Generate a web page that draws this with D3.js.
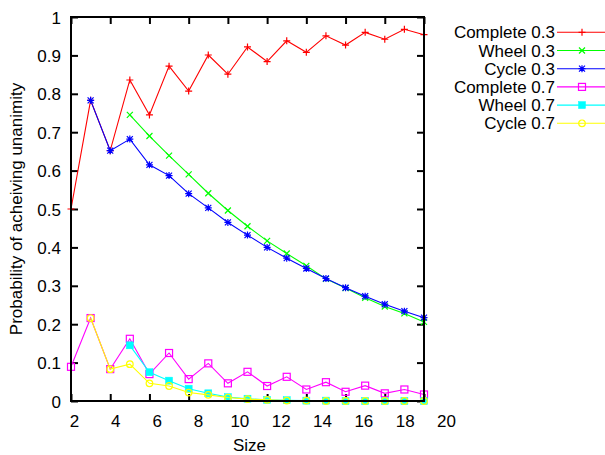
<!DOCTYPE html>
<html>
<head>
<meta charset="utf-8">
<script src="https://cdn.jsdelivr.net/npm/d3@7"></script>
<style>
  html, body { margin: 0; padding: 0; background: #fff; }
  svg { display: block; }
  text { font-family: "Liberation Sans", Arial, sans-serif; }
</style>
</head>
<body>
<svg id="chart" width="605" height="455"></svg>
<script>
// ---- data ----
const sizes = [2,3,4,5,6,7,8,9,10,11,12,13,14,15,16,17,18,19,20];
const complete03 = [0.500,0.783,0.652,0.836,0.745,0.872,0.807,0.901,0.851,0.922,0.884,0.938,0.908,0.951,0.927,0.960,0.942,0.968,0.954];
const wheel03    = [null,null,null,0.745,0.690,0.639,0.590,0.541,0.496,0.455,0.417,0.384,0.352,0.318,0.294,0.269,0.246,0.228,0.206];
const cycle03    = [null,0.783,0.652,0.682,0.615,0.587,0.540,0.503,0.465,0.432,0.400,0.372,0.345,0.319,0.295,0.273,0.252,0.234,0.217];
const complete07 = [0.089,0.216,0.083,0.162,0.070,0.125,0.057,0.098,0.046,0.076,0.039,0.063,0.030,0.049,0.024,0.040,0.020,0.030,0.017];
const wheel07    = [null,null,null,0.145,0.075,0.053,0.032,0.020,0.010,0.006,0.003,0.002,0.001,0.001,0.000,0.000,0.000,0.000,0.000];
const cycle07    = [null,0.216,0.083,0.096,0.046,0.039,0.022,0.016,0.009,0.005,0.003,0.001,0.001,0.000,0.000,0.000,0.000,0.000,0.000];

const seriesNames = ["Complete 0.3","Wheel 0.3","Cycle 0.3","Complete 0.7","Wheel 0.7","Cycle 0.7"];
const seriesValues = [complete03, wheel03, cycle03, complete07, wheel07, cycle07];
const seriesColors = ["#ff0000","#00ff00","#0000ff","#ff00ff","#00ffff","#ffff00"];
const seriesMarkers = ["plus","cross","star","openSquare","filledSquare","openCircle"];

const xTicks = [2,4,6,8,10,12,14,16,18,20];
const yTicks = [0,0.1,0.2,0.3,0.4,0.5,0.6,0.7,0.8,0.9,1];
const yTickLabels = ["0","0.1","0.2","0.3","0.4","0.5","0.6","0.7","0.8","0.9","1"];
const xTitle = "Size";
const yTitle = "Probability of acheiving unanimity";

// ---- layout ----
const L = 71, R = 424, T = 17, B = 401;
const FONT = 17;
const svg = d3.select("#chart");
svg.append("rect").attr("width",605).attr("height",455).attr("fill","#fff");

const x = d3.scaleLinear().domain([2,20]).range([L,R]);
const xLab = d3.scaleLinear().domain([2,20]).range([74,446]);
const y = d3.scaleLinear().domain([0,1]).range([B,T]);

function styleTicks(g){
  g.select(".domain").remove();
  g.selectAll(".tick line").attr("stroke","#000").attr("stroke-width",2);
}
// inward ticks on all four sides
svg.append("g").attr("transform",`translate(0,${B})`)
  .call(d3.axisTop(x).tickValues(xTicks).tickSize(7).tickFormat(""))
  .call(styleTicks);
svg.append("g").attr("transform",`translate(0,${T})`)
  .call(d3.axisBottom(x).tickValues(xTicks).tickSize(7).tickFormat(""))
  .call(styleTicks);
svg.append("g").attr("transform",`translate(${L},0)`)
  .call(d3.axisRight(y).tickValues(yTicks).tickSize(7).tickFormat(""))
  .call(styleTicks);
svg.append("g").attr("transform",`translate(${R},0)`)
  .call(d3.axisLeft(y).tickValues(yTicks).tickSize(7).tickFormat(""))
  .call(styleTicks);

// tick labels
const gxl = svg.append("g").attr("transform",`translate(0,${B})`)
  .call(d3.axisBottom(xLab).tickValues(xTicks).tickSize(0).tickPadding(14).tickFormat(d3.format("d")));
gxl.select(".domain").remove();
gxl.selectAll("text").attr("font-size",FONT).attr("font-family","'Liberation Sans', Arial, sans-serif").attr("fill","#000");

const gyl = svg.append("g").attr("transform",`translate(${L},0)`)
  .call(d3.axisLeft(y).tickValues(yTicks).tickSize(0).tickPadding(10).tickFormat((d,i)=>yTickLabels[i]));
gyl.select(".domain").remove();
gyl.selectAll("text").attr("font-size",FONT).attr("dy","0.36em").attr("font-family","'Liberation Sans', Arial, sans-serif").attr("fill","#000");

// markers
function drawMarker(sel, type, color){
  const s = 3.5;
  if (type === "plus" || type === "cross" || type === "star"){
    let d = "";
    if (type !== "cross") d += `M${-s},0H${s}M0,${-s}V${s}`;
    if (type !== "plus") d += `M${-3},${-3}L3,3M${-3},3L3,${-3}`;
    sel.append("path").attr("d",d).attr("stroke",color).attr("stroke-width",1.2).attr("fill","none");
  } else if (type === "openSquare"){
    sel.append("rect").attr("x",-s).attr("y",-s).attr("width",2*s).attr("height",2*s)
      .attr("fill","none").attr("stroke",color).attr("stroke-width",1.2);
  } else if (type === "filledSquare"){
    sel.append("rect").attr("x",-s).attr("y",-s).attr("width",2*s).attr("height",2*s)
      .attr("fill",color).attr("stroke",color).attr("stroke-width",0.5);
  } else if (type === "openCircle"){
    sel.append("circle").attr("r",3.3).attr("fill","none").attr("stroke",color).attr("stroke-width",1.2);
  }
}

// series
const line = d3.line().defined(d => d.v !== null).x(d => x(d.s)).y(d => y(d.v));
seriesValues.forEach((vals, i) => {
  const pts = sizes.map((s, j) => ({s, v: vals[j]}));
  const g = svg.append("g");
  g.append("path").datum(pts).attr("d", line).attr("fill","none")
    .attr("stroke", seriesColors[i]).attr("stroke-width",1.1);
  pts.filter(p => p.v !== null).forEach(p => {
    const m = g.append("g").attr("transform",`translate(${x(p.s)},${y(p.v)})`);
    drawMarker(m, seriesMarkers[i], seriesColors[i]);
  });
});

// frame
svg.append("rect").attr("x",L).attr("y",T).attr("width",R-L).attr("height",B-T)
  .attr("fill","none").attr("stroke","#000").attr("stroke-width",2);

// axis titles
svg.append("text").attr("x",249.5).attr("y",451).attr("text-anchor","middle")
  .attr("font-size",FONT).attr("fill","#000").text(xTitle);
svg.append("text").attr("transform",`translate(22,${(T+B)/2}) rotate(-90)`)
  .attr("text-anchor","middle").attr("font-size",FONT).attr("fill","#000").text(yTitle);

// legend
const legY0 = 32.3, legDy = 18.2;
seriesNames.forEach((name, i) => {
  const yy = legY0 + i*legDy;
  const g = svg.append("g");
  g.append("text").attr("x",555).attr("y",yy).attr("dy","0.36em").attr("text-anchor","end")
    .attr("font-size",FONT).attr("fill","#000").text(name);
  g.append("line").attr("x1",557).attr("x2",607).attr("y1",yy).attr("y2",yy)
    .attr("stroke",seriesColors[i]).attr("stroke-width",1.1);
  const m = g.append("g").attr("transform",`translate(582,${yy})`);
  drawMarker(m, seriesMarkers[i], seriesColors[i]);
});
</script>
</body>
</html>
